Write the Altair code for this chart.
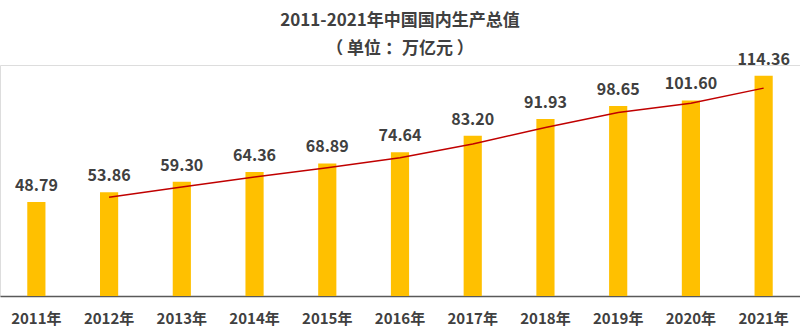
import altair as alt
import pandas as pd

years = ["2011年", "2012年", "2013年", "2014年", "2015年", "2016年",
         "2017年", "2018年", "2019年", "2020年", "2021年"]
gdp = [48.79, 53.86, 59.30, 64.36, 68.89, 74.64, 83.20, 91.93, 98.65, 101.60, 114.36]
labels = ["48.79", "53.86", "59.30", "64.36", "68.89", "74.64", "83.20",
          "91.93", "98.65", "101.60", "114.36"]

df = pd.DataFrame({"year": years, "gdp": gdp, "label": labels, "idx": list(range(len(years)))})

FONT = "Noto Sans CJK SC"
TXT = "#404040"

x = alt.X("year:N", sort=years,
          scale=alt.Scale(paddingInner=0.75, paddingOuter=0.375),
          axis=alt.Axis(title=None, labelAngle=0, ticks=False, labelPadding=15,
                        labelFont=FONT, labelFontSize=15, labelFontWeight="bold",
                        labelColor=TXT, domainColor="#595959", domainWidth=1.5,
                        grid=False))
y = alt.Y("gdp:Q", scale=alt.Scale(domain=[0, 120], nice=False),
          axis=None)

base = alt.Chart(df)

bars = base.mark_bar(color="#FFC000").encode(x=x, y=y)

text = base.mark_text(dy=-16, baseline="middle", font=FONT, fontSize=16,
                      fontWeight="bold", color=TXT).encode(x=x, y=y, text="label:N")

trend = base.transform_window(
    ma="mean(gdp)", frame=[-1, 0], sort=[alt.SortField("idx")]
).transform_filter(alt.datum.idx >= 1).mark_line(
    color="#C00000", strokeWidth=1.5
).encode(x=x, y=alt.Y("ma:Q", scale=alt.Scale(domain=[0, 120], nice=False), axis=None))

chart = alt.layer(bars, trend, text).properties(
    width=800, height=231,
    title=alt.TitleParams(
        text="2011-2021年中国国内生产总值",
        subtitle="（ 单位 ：万亿元 ）",
        font=FONT, fontSize=17, fontWeight="bold", color=TXT,
        subtitleFont=FONT, subtitleFontSize=17, subtitleFontWeight="bold",
        subtitleColor=TXT, subtitlePadding=11, offset=-6, anchor="middle",
        frame="group"
    ),
    autosize=alt.AutoSizeParams(type="none"),
    padding={"top": 65, "bottom": 33, "left": 0, "right": 0},
).configure_view(stroke=None).configure(background="white")

chart.save("out.html", embed_options={"renderer": "svg", "actions": False})
